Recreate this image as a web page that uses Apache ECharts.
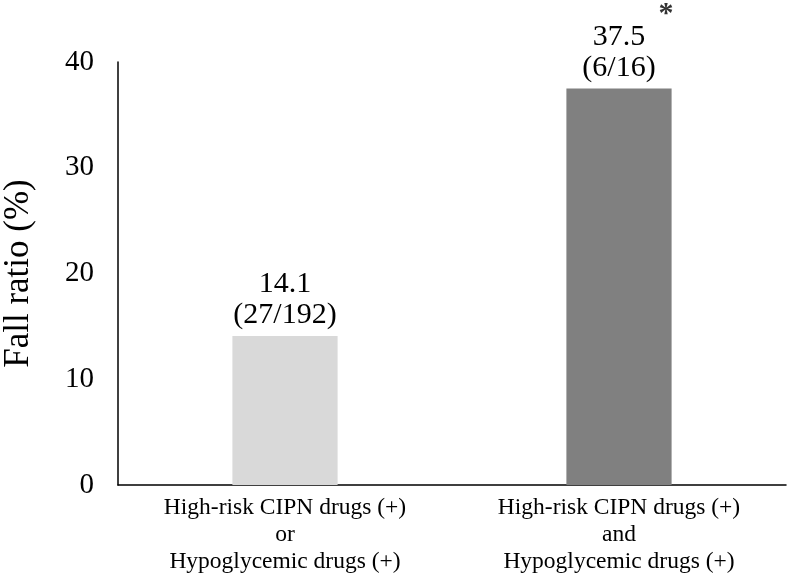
<!DOCTYPE html>
<html>
<head>
<meta charset="utf-8">
<script src="https://cdn.jsdelivr.net/npm/echarts@6/dist/echarts.min.js"></script>
<style>
  html, body { margin: 0; padding: 0; background: #fff; }
  #chart { width: 787px; height: 576px; }
</style>
</head>
<body>
<div id="chart"></div>
<script>
var categories = [
  'High-risk CIPN drugs (+)\nor\nHypoglycemic drugs (+)',
  'High-risk CIPN drugs (+)\nand\nHypoglycemic drugs (+)'
];
var ratios = [14.1, 37.5];
var counts = ['(27/192)', '(6/16)'];
var marks = ['', '*'];
var barColors = ['#d9d9d9', '#808080'];

var font = 'Liberation Serif, Times New Roman, serif';

var chart = echarts.init(document.getElementById('chart'));

var option = {
  animation: false,
  grid: { left: 118, right: 1, top: 62, bottom: 91, containLabel: false, outerBoundsMode: 'none' },
  xAxis: {
    type: 'category',
    data: categories,
    axisLine: { lineStyle: { color: '#000', width: 1.5 } },
    axisTick: { show: false },
    axisLabel: {
      color: '#000',
      fontFamily: font,
      fontSize: 23.5,
      lineHeight: 27,
      margin: 9
    }
  },
  yAxis: {
    type: 'value',
    min: 0,
    max: 40,
    interval: 10,
    name: 'Fall ratio (%)',
    nameLocation: 'middle',
    nameGap: 82,
    nameTextStyle: { color: '#000', fontFamily: font, fontSize: 35 },
    axisLine: { show: true, lineStyle: { color: '#000', width: 1.5 } },
    axisTick: { show: false },
    splitLine: { show: false },
    axisLabel: { color: '#000', fontFamily: font, fontSize: 29, margin: 24 }
  },
  series: [
    {
      type: 'bar',
      barWidth: '31.5%',
      data: ratios.map(function (v, i) {
        return { value: v, itemStyle: { color: barColors[i] } };
      }),
      label: {
        show: true,
        position: 'top',
        distance: 5,
        color: '#000',
        fontFamily: font,
        fontSize: 30,
        lineHeight: 31,
        formatter: function (p) {
          return p.value.toFixed(1) + '\n' + counts[p.dataIndex];
        }
      }
    },
    {
      type: 'scatter',
      symbolSize: 0,
      silent: true,
      data: ratios,
      label: {
        show: true,
        position: 'inside',
        offset: [47, -74],
        color: '#000',
        fontFamily: font,
        fontSize: 30,
        fontWeight: 'bold',
        formatter: function (p) { return marks[p.dataIndex]; }
      }
    }
  ]
};

chart.setOption(option);
</script>
</body>
</html>
